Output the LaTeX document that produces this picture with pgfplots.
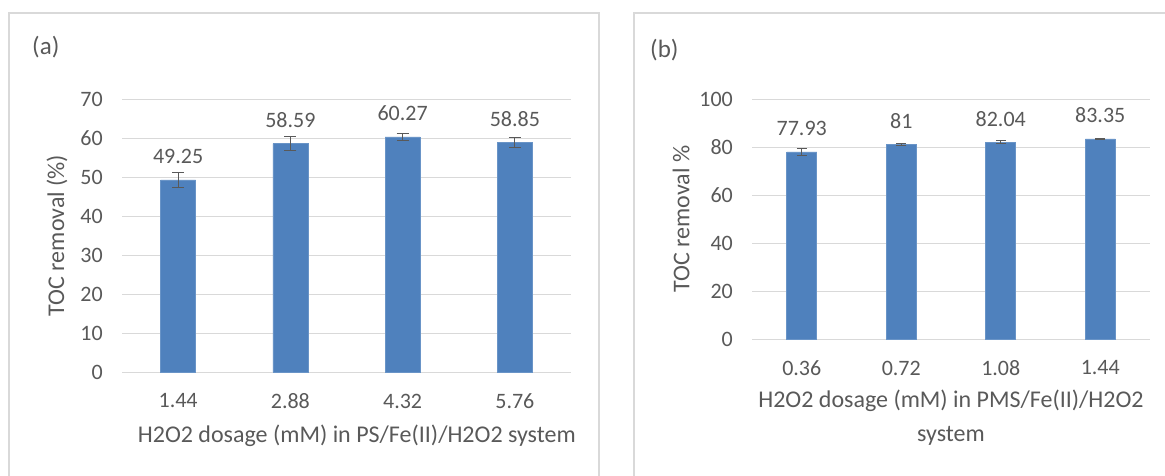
\documentclass[border=0pt]{standalone}
\usepackage{pgfplots}
\pgfplotsset{compat=1.18}
\usepackage{pgfplotstable}
\usepackage{fontspec}
\setmainfont{Carlito}

\definecolor{barblue}{HTML}{4F81BD}
\definecolor{txtgray}{HTML}{595959}
\definecolor{gridgray}{HTML}{D9D9D9}

% TOC removal, PS/Fe(II)/H2O2 system
\pgfplotstableread{
x y e lab
0 49.25 2.0 49.25
1 58.59 1.9 58.59
2 60.27 0.8 60.27
3 58.85 1.3 58.85
}\dataA

% TOC removal, PMS/Fe(II)/H2O2 system
\pgfplotstableread{
x y e lab
0 77.93 1.5 77.93
1 81.00 0.3 81
2 82.04 0.6 82.04
3 83.35 0.3 83.35
}\dataB

\tikzset{
  labelfont/.style={font=\fontsize{24}{29}\selectfont, text=txtgray, align=center, inner sep=0pt},
}

\pgfplotsset{
  excelbar/.style={
    scale only axis,
    ybar,
    xmin=-0.5, xmax=3.5,
    xtick={0,1,2,3},
    ymin=0,
    axis line style={draw=none},
    major tick length=0pt,
    ymajorgrids,
    grid style={gridgray, line width=1pt},
    /pgf/number format/assume math mode=true,
    tick label style={font=\fontsize{22}{26}\selectfont, text=txtgray},
    yticklabel style={anchor=east, inner sep=0pt, xshift=-19pt},
    xticklabel style={anchor=center, inner sep=0pt, yshift=-29pt},
    nodes near coords,
    point meta=explicit symbolic,
    every node near coord/.append style={font=\fontsize{22}{26}\selectfont,
      text=txtgray, anchor=center, inner sep=0pt, yshift=23.5pt},
    clip=false,
  },
  excelseries/.style={
    fill=barblue, draw=barblue!85!white, line width=0.6pt,
    error bars/.cd, y dir=both, y explicit,
    error bar style={txtgray, line width=1pt},
    error mark options={rotate=90, txtgray, line width=1pt, mark size=#1},
  },
}

\begin{document}
\begin{tikzpicture}
\useasboundingbox (0,0) rectangle (1165pt,475pt);

% panel frames
\draw[gridgray, line width=1.5pt] (9pt,-5pt) -- (9pt,462pt) -- (599pt,462pt) -- (599pt,-5pt);
\draw[gridgray, line width=1.5pt] (634pt,-5pt) -- (634pt,462pt) -- (1175pt,462pt);

\node[anchor=west, text=txtgray, font=\fontsize{25}{30}\selectfont, inner sep=0pt] at (32pt,428pt) {(a)};
\node[anchor=west, text=txtgray, font=\fontsize{25}{30}\selectfont, inner sep=0pt] at (650pt,425pt) {(b)};

\begin{axis}[excelbar,
  at={(122pt,103pt)}, anchor=south west,
  width=449pt, height=273pt,
  ymax=70, ytick={0,10,...,70},
  xticklabels={1.44,2.88,4.32,5.76},
  bar width=35pt,
  xlabel={H2O2 dosage (mM) in PS/Fe(II)/H2O2 system},
  ylabel={TOC removal (\%)},
  every axis x label/.style={labelfont, at={(axis description cs:0.523,-0.2344)}, anchor=center},
  every axis y label/.style={labelfont, at={(axis description cs:-0.1448,0.5)}, rotate=90, anchor=center},
]
\addplot[excelseries=6pt] table[x=x, y=y, y error=e, meta=lab] {\dataA};
\end{axis}

\begin{axis}[excelbar,
  at={(752pt,136pt)}, anchor=south west,
  width=398pt, height=240pt,
  ymax=100, ytick={0,20,...,100},
  xticklabels={0.36,0.72,1.08,1.44},
  bar width=30pt,
  xlabel={H2O2 dosage (mM) in PMS/Fe(II)/H2O2\\[5pt]system},
  ylabel={TOC removal \%},
  every axis x label/.style={labelfont, at={(axis description cs:0.5,-0.329)}, anchor=center},
  every axis y label/.style={labelfont, at={(axis description cs:-0.178,0.5)}, rotate=90, anchor=center},
]
\addplot[excelseries=5pt] table[x=x, y=y, y error=e, meta=lab] {\dataB};
\end{axis}
\end{tikzpicture}
\end{document}
